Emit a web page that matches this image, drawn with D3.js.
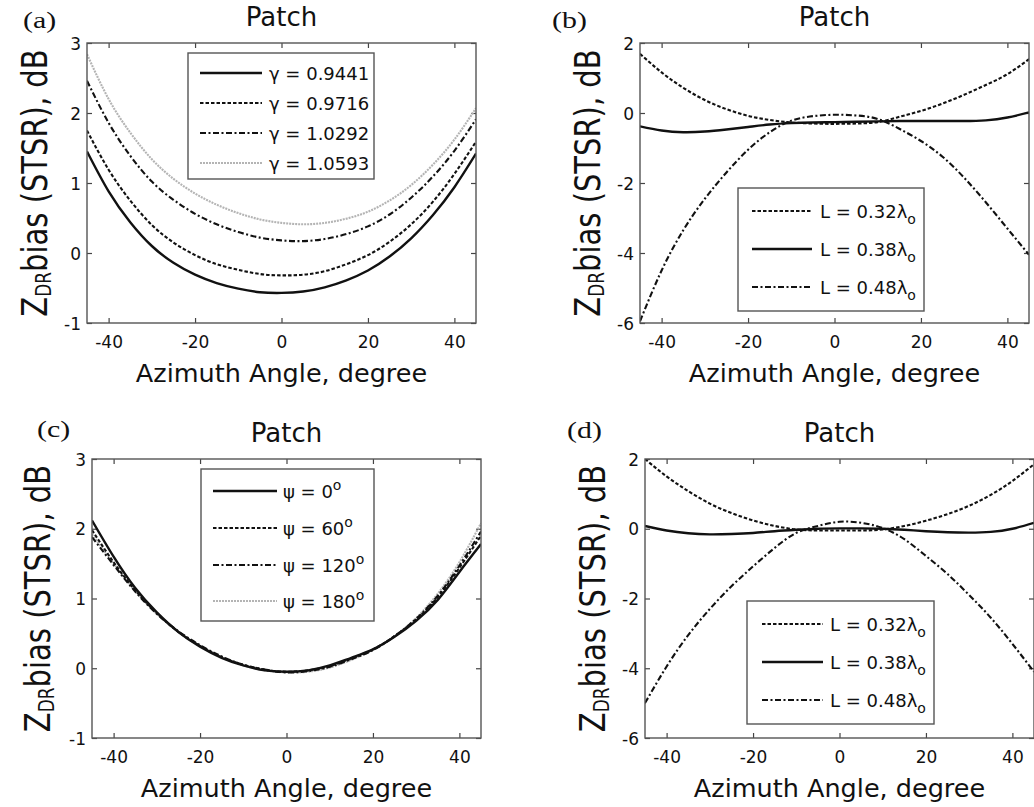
<!DOCTYPE html>
<html>
<head>
<meta charset="utf-8">
<script src="https://cdn.jsdelivr.net/npm/d3@7"></script>
<style>
  body { margin: 0; background: #fff; }
  svg { display: block; }
  text { font-family: "DejaVu Sans", sans-serif; fill: #111; }
</style>
</head>
<body>
<div id="chart"></div>
<script>
// Azimuth angles (degree) at which each curve is read
const angles = [-45, -40, -35, -30, -25, -20, -15, -10, -5, 0, 5, 10, 15, 20, 25, 30, 35, 40, 45];

// (a) different gamma
const gammaLabels = ['0.9441', '0.9716', '1.0292', '1.0593'];
const gamma0944 = [1.45, 0.88, 0.44, 0.10, -0.14, -0.31, -0.43, -0.51, -0.56, -0.57, -0.55, -0.49, -0.39, -0.25, -0.05, 0.21, 0.54, 0.94, 1.42];
const gamma0972 = [1.75, 1.19, 0.75, 0.40, 0.15, -0.03, -0.16, -0.24, -0.30, -0.32, -0.31, -0.26, -0.16, -0.03, 0.16, 0.41, 0.73, 1.13, 1.59];
const gamma1029 = [2.46, 1.86, 1.39, 1.02, 0.76, 0.56, 0.41, 0.30, 0.22, 0.18, 0.17, 0.20, 0.27, 0.38, 0.55, 0.79, 1.09, 1.46, 1.91];
const gamma1059 = [2.84, 2.20, 1.72, 1.34, 1.06, 0.85, 0.69, 0.57, 0.48, 0.43, 0.41, 0.43, 0.49, 0.59, 0.75, 0.97, 1.26, 1.62, 2.07];

// (b) and (d) different patch length
const lengthLabels = ['0.32', '0.38', '0.48'];
const len032b = [1.69, 1.16, 0.72, 0.37, 0.11, -0.08, -0.20, -0.27, -0.30, -0.31, -0.30, -0.26, -0.11, 0.06, 0.27, 0.52, 0.80, 1.11, 1.54];
const len038b = [-0.38, -0.50, -0.55, -0.53, -0.47, -0.40, -0.33, -0.29, -0.27, -0.26, -0.25, -0.24, -0.23, -0.23, -0.23, -0.23, -0.21, -0.13, 0.02];
const len048b = [-5.95, -4.50, -3.35, -2.45, -1.70, -1.05, -0.55, -0.22, -0.09, -0.05, -0.07, -0.17, -0.45, -0.80, -1.25, -1.85, -2.55, -3.30, -4.05];

const len032d = [2.00, 1.50, 1.08, 0.72, 0.45, 0.24, 0.08, -0.02, -0.05, -0.05, -0.05, -0.02, 0.08, 0.23, 0.42, 0.66, 0.97, 1.37, 1.85];
const len038d = [0.08, -0.05, -0.13, -0.16, -0.15, -0.12, -0.07, -0.03, 0.00, 0.01, 0.01, 0.00, -0.03, -0.07, -0.10, -0.11, -0.09, 0.00, 0.17];
const len048d = [-5.00, -3.95, -3.05, -2.30, -1.65, -1.08, -0.55, -0.12, 0.08, 0.20, 0.17, 0.02, -0.30, -0.78, -1.30, -1.90, -2.55, -3.30, -4.10];

// (c) different psi
const psiLabels = ['0', '60', '120', '180'];
const psi0 = [2.12, 1.60, 1.15, 0.80, 0.52, 0.31, 0.15, 0.04, -0.03, -0.05, -0.03, 0.04, 0.15, 0.27, 0.45, 0.68, 0.98, 1.38, 1.78];
const psi60 = [1.98, 1.52, 1.12, 0.79, 0.52, 0.32, 0.16, 0.05, -0.02, -0.05, -0.03, 0.03, 0.14, 0.27, 0.46, 0.70, 1.02, 1.44, 1.90];
const psi120 = [1.88, 1.48, 1.10, 0.78, 0.53, 0.33, 0.17, 0.05, -0.02, -0.06, -0.04, 0.02, 0.13, 0.26, 0.46, 0.71, 1.04, 1.47, 1.96];
const psi180 = [1.92, 1.50, 1.11, 0.78, 0.52, 0.32, 0.16, 0.04, -0.03, -0.06, -0.05, 0.01, 0.12, 0.26, 0.46, 0.72, 1.07, 1.52, 2.08];

const xTicks = [-40, -20, 0, 20, 40];

// line styles
const solid = { dash: null, color: '#111', width: 2.4 };
const fine = { dash: '3.5,2', color: '#111', width: 2.1 };
const dashed = { dash: '6,2.5,2,2.5', color: '#111', width: 2.1 };
const grey = { dash: '2,1', color: '#b4b4b4', width: 2.1 };

let width = 1034, height = 807;

let svg = d3.select('#chart')
            .append('svg')
            .attr('width', width)
            .attr('height', height)
            .style('background', '#fff');

// panel layout + series (built from the arrays above)
const panels = [
    { tag: '(a)', tagX: 23, tagY: 28, box: [87, 476, 43, 323], yDom: [-1, 3], yTicks: [-1, 0, 1, 2, 3],
      ylabX: 47,
      series: [[gamma0944, solid], [gamma0972, fine], [gamma1029, dashed], [gamma1059, grey]],
      legend: { box: [188, 374, 53, 179], lineX: [200, 262], textX: 269, ys: [73, 103, 133, 163],
                labels: gammaLabels.map(g => [['γ = ' + g]]) } },
    { tag: '(b)', tagX: 552, tagY: 28, box: [640, 1029, 43, 323], yDom: [-6, 2], yTicks: [-6, -4, -2, 0, 2],
      ylabX: 600,
      series: [[len032b, fine], [len038b, solid], [len048b, dashed]],
      legend: { box: [738, 924, 188, 311], lineX: [752, 812], textX: 820, ys: [211, 249, 287],
                labels: lengthLabels.map(l => [['L = ' + l + 'λ'], ['o', 'sub']]) } },
    { tag: '(c)', tagX: 37, tagY: 437, box: [92, 481, 459, 738], yDom: [-1, 3], yTicks: [-1, 0, 1, 2, 3],
      ylabX: 50,
      series: [[psi180, grey], [psi120, dashed], [psi60, fine], [psi0, solid]],
      legend: { box: [201, 374, 469, 621], lineX: [213, 277], textX: 283, ys: [491, 528, 565, 601],
                labels: psiLabels.map(p => [['ψ = ' + p], ['o', 'sup']]) },
      legendOrder: [3, 2, 1, 0] },
    { tag: '(d)', tagX: 567, tagY: 438, box: [645, 1034, 459, 738], yDom: [-6, 2], yTicks: [-6, -4, -2, 0, 2],
      ylabX: 605,
      series: [[len032d, fine], [len038d, solid], [len048d, dashed]],
      legend: { box: [747, 934, 601, 724], lineX: [762, 823], textX: 830, ys: [624, 662, 700],
                labels: lengthLabels.map(l => [['L = ' + l + 'λ'], ['o', 'sub']]) } }
];

const fmt = d => String(d);   // plain hyphen minus like the original

panels.forEach(function(p, pi) {
    let [x0, x1, y0, y1] = p.box;
    let g = svg.append('g');

    let xscale = d3.scaleLinear().domain([-45, 45]).range([x0, x1]);
    let yscale = d3.scaleLinear().domain(p.yDom).range([y1, y0]);

    // clip
    g.append('clipPath').attr('id', 'clip' + pi)
     .append('rect').attr('x', x0).attr('y', y0).attr('width', x1 - x0).attr('height', y1 - y0);

    // axes with inward ticks on all sides
    let xb = g.append('g').attr('transform', `translate(0, ${y1})`)
              .call(d3.axisBottom(xscale).tickValues(xTicks).tickSize(-5).tickPadding(13).tickFormat(fmt));
    let xt = g.append('g').attr('transform', `translate(0, ${y0})`)
              .call(d3.axisTop(xscale).tickValues(xTicks).tickSize(-5).tickFormat(''));
    let yl = g.append('g').attr('transform', `translate(${x0}, 0)`)
              .call(d3.axisLeft(yscale).tickValues(p.yTicks).tickSize(-5).tickPadding(6).tickFormat(fmt));
    let yr = g.append('g').attr('transform', `translate(${x1}, 0)`)
              .call(d3.axisRight(yscale).tickValues(p.yTicks).tickSize(-5).tickFormat(''));
    [xb, xt, yl, yr].forEach(a => {
        a.select('.domain').remove();
        a.selectAll('line').attr('stroke', '#444').attr('stroke-width', 1.2);
        a.selectAll('text').style('font-family', '"DejaVu Sans", sans-serif')
         .style('font-size', '17px').attr('fill', '#111');
    });
    yl.selectAll('text').attr('dy', '0.36em');

    // curves
    let line = d3.line()
                 .x((d, i) => xscale(angles[i]))
                 .y(d => yscale(d))
                 .curve(d3.curveNatural);

    p.series.forEach(function(s) {
        g.append('path')
         .datum(s[0])
         .attr('d', line)
         .attr('clip-path', `url(#clip${pi})`)
         .attr('fill', 'none')
         .attr('stroke', s[1].color)
         .attr('stroke-width', s[1].width)
         .attr('stroke-dasharray', s[1].dash);
    });

    // frame
    g.append('rect')
     .attr('x', x0).attr('y', y0).attr('width', x1 - x0).attr('height', y1 - y0)
     .attr('fill', 'none').attr('stroke', '#555').attr('stroke-width', 1.4);

    // legend
    let L = p.legend;
    g.append('rect')
     .attr('x', L.box[0]).attr('y', L.box[2])
     .attr('width', L.box[1] - L.box[0]).attr('height', L.box[3] - L.box[2])
     .attr('fill', '#fff').attr('stroke', '#555').attr('stroke-width', 1.4);

    let order = p.legendOrder || p.series.map((s, i) => i);
    L.ys.forEach(function(ly, k) {
        let st = p.series[order[k]][1];
        g.append('line')
         .attr('x1', L.lineX[0]).attr('x2', L.lineX[1])
         .attr('y1', ly).attr('y2', ly)
         .attr('stroke', st.color).attr('stroke-width', st.width)
         .attr('stroke-dasharray', st.dash);
        let t = g.append('text')
                 .attr('x', L.textX).attr('y', ly + 7)
                 .style('font-size', '18px');
        L.labels[k].forEach(function(part) {
            let ts = t.append('tspan').text(part[0]);
            if (part[1] === 'sub') ts.attr('dy', 6).style('font-size', '14px');
            if (part[1] === 'sup') ts.attr('dy', -8).style('font-size', '14px');
        });
    });

    // title
    g.append('text')
     .attr('x', xscale(0)).attr('y', y0 - 17)
     .style('text-anchor', 'middle')
     .style('font-size', '26px')
     .text('Patch');

    // panel tag (serif, a bit wide like the scan)
    g.append('text')
     .attr('transform', `translate(${p.tagX}, ${p.tagY}) scale(1.3, 1)`)
     .style('font-family', '"Liberation Serif", "Times New Roman", serif')
     .style('font-size', '23px')
     .text(p.tag);

    // x label
    g.append('text')
     .attr('x', xscale(0)).attr('y', y1 + 59)
     .style('text-anchor', 'middle')
     .style('font-size', '25.5px')
     .text('Azimuth Angle, degree');

    // y label with subscript
    let yc = (y0 + y1) / 2;
    let yt = g.append('text')
              .attr('transform', `translate(${p.ylabX}, ${yc}) rotate(-90) scale(1, 1.25)`)
              .style('text-anchor', 'middle')
              .style('font-size', '29px');
    yt.append('tspan').text('Z');
    yt.append('tspan').attr('dy', 3).style('font-size', '17px').text('DR');
    yt.append('tspan').attr('dy', -3).text('bias (STSR), dB');
});
</script>
</body>
</html>
